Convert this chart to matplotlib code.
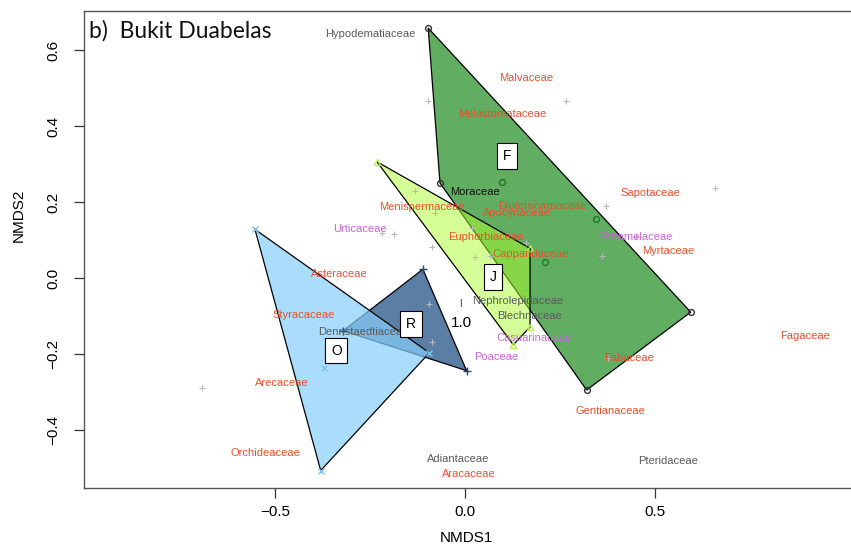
import matplotlib
matplotlib.use('Agg')
import matplotlib.pyplot as plt
from matplotlib.patches import Polygon
import numpy as np

# ---------------- data ----------------
# site scores per forest type (NMDS1, NMDS2)
F_x = [-0.097, -0.066, 0.594, 0.320, 0.097, 0.345, 0.211]
F_y = [0.658, 0.250, -0.090, -0.295, 0.253, 0.154, 0.043]
J_x = [-0.232, 0.171, 0.171, 0.127]
J_y = [0.306, 0.078, -0.129, -0.176]
R_x = [-0.111, 0.004, -0.321]
R_y = [0.023, -0.244, -0.139]
O_x = [-0.553, -0.094, -0.380, -0.371]
O_y = [0.128, -0.197, -0.507, -0.236]

# group centroid labels
group_names = ['F', 'J', 'R', 'O']
group_lab_x = [0.110, 0.073, -0.143, -0.339]
group_lab_y = [0.322, 0.002, -0.121, -0.191]

# unlabeled species scores (grey crosses)
sp_x = [-0.097, 0.265, -0.132, 0.370, 0.658, 0.361, 0.450, -0.219, -0.186,
        -0.079, -0.086, 0.026, 0.066, 0.018, -0.095, -0.086, -0.693, 0.376, 0.161]
sp_y = [0.467, 0.466, 0.228, 0.190, 0.236, 0.058, 0.108, 0.118, 0.115,
        0.170, 0.082, 0.054, 0.058, 0.131, -0.068, -0.169, -0.289, -0.211, 0.092]

# labelled families
fam_names = ['Hypodematiaceae', 'Malvaceae', 'Melastomataceae', 'Moraceae',
             'Menispermaceae', 'Dipterocarpaceae', 'Apocynaceae', 'Sapotaceae',
             'Urticaceae', 'Euphorbiaceae', 'Tetramelaceae', 'Myrtaceae',
             'Capparidaceae', 'Asteraceae', 'Nephrolepidaceae', 'Styracaceae',
             'Blechnaceae', 'Dennstaedtiaceae', 'Casuarinaceae', 'Poaceae',
             'Fabaceae', 'Fagaceae', 'Arecaceae', 'Gentianaceae', 'Orchideaceae',
             'Adiantaceae', 'Aracaceae', 'Pteridaceae']
fam_x = [-0.250, 0.161, 0.099, 0.026, -0.114, 0.204, 0.136, 0.487,
         -0.278, 0.054, 0.452, 0.535, 0.171, -0.332, 0.138, -0.426,
         0.169, -0.268, 0.182, 0.082, 0.432, 0.895, -0.482, 0.383, -0.526,
         -0.018, 0.011, 0.533]
fam_y = [0.642, 0.526, 0.432, 0.227, 0.188, 0.190, 0.170, 0.224,
         0.129, 0.109, 0.107, 0.072, 0.063, 0.011, -0.060, -0.097,
         -0.099, -0.141, -0.159, -0.207, -0.210, -0.152, -0.277, -0.350, -0.460,
         -0.476, -0.516, -0.483]
fam_type = ['fern', 'tree', 'tree', 'other', 'tree', 'tree', 'tree', 'tree',
            'herb', 'tree', 'herb', 'tree', 'tree', 'tree', 'fern', 'tree',
            'fern', 'fern', 'herb', 'herb', 'tree', 'tree', 'tree', 'tree', 'tree',
            'fern', 'tree', 'fern']

x_ticks = [-0.5, 0.0, 0.5]
y_ticks = [-0.4, -0.2, 0.0, 0.2, 0.4, 0.6]

# ---------------- styles ----------------
type_col = {'tree': '#e2522c', 'fern': '#5a5a5a', 'herb': '#c865d8', 'other': '#111111'}


def hull(xs, ys):
    pts = sorted(set(zip(xs, ys)))
    def cross(o, a, b):
        return (a[0]-o[0])*(b[1]-o[1]) - (a[1]-o[1])*(b[0]-o[0])
    lower, upper = [], []
    for p in pts:
        while len(lower) >= 2 and cross(lower[-2], lower[-1], p) <= 0:
            lower.pop()
        lower.append(p)
    for p in reversed(pts):
        while len(upper) >= 2 and cross(upper[-2], upper[-1], p) <= 0:
            upper.pop()
        upper.append(p)
    return lower[:-1] + upper[:-1]


W, H = 851, 547
fig = plt.figure(figsize=(W/100, H/100), dpi=100)
L, B, Rr, T = 84, 488, 853, 11
ax = fig.add_axes([L/W, (H-B)/H, (Rr-L)/W, (B-T)/H])
ax.set_xlim(-1.003, (Rr-465)/380)
ax.set_ylim(-0.553, 0.703)

groups = [
    (F_x, F_y, '#61ad61', 1.0, 'o', '#1f7a1f', '#333333', 4.2),
    (J_x, J_y, '#adff2f', 0.5, '^', '#b8f04a', '#b8f04a', 4.5),
    (R_x, R_y, '#5b7ea5', 1.0, '+', '#24456e', '#24456e', 6),
    (O_x, O_y, '#87cefa', 0.7, 'x', '#79c4f2', '#79c4f2', 4.5),
]
for i, (gx, gy, fc, al, mk, mc, vc, ms) in enumerate(groups):
    h = hull(gx, gy)
    ax.add_patch(Polygon(h, closed=True, facecolor=fc, alpha=al, edgecolor='none', zorder=2 + i))
    ax.add_patch(Polygon(h, closed=True, facecolor='none', edgecolor='black', lw=0.9, zorder=2 + i))
    hs = set(h)
    for x, y in zip(gx, gy):
        c = vc if (x, y) in hs else mc
        if mk in ('o', '^'):
            ax.plot(x, y, mk, ms=ms, mfc='none', mec=c, mew=1.0, zorder=7)
        else:
            ax.plot(x, y, mk, ms=ms, color=c, mew=1.0, zorder=7)

ax.plot(sp_x, sp_y, '+', ms=5, color='#b9b9b9', mew=0.8, linestyle='none', zorder=8)

for n, x, y, t in zip(fam_names, fam_x, fam_y, fam_type):
    ax.text(x, y, n, ha='center', va='center', fontsize=8, color=type_col[t],
            family='Liberation Sans', zorder=9)

for n, x, y in zip(group_names, group_lab_x, group_lab_y):
    ax.text(x, y, n, ha='center', va='center', fontsize=10, family='Liberation Sans',
            zorder=10, bbox=dict(boxstyle='square,pad=0.42', fc='white', ec='black', lw=0.8))

ax.text(-0.009, -0.118, '1.0', ha='center', va='center', fontsize=11,
        family='Liberation Sans', color='black', zorder=10)
ax.text(-0.011, -0.068, 'I', ha='center', va='center', fontsize=7,
        family='Liberation Sans', color='#333333', zorder=10)

ax.text(-0.990, 0.651, 'b)  Bukit Duabelas', ha='left', va='center', fontsize=16.5,
        family='Lato', color='#111111', zorder=10)

ax.set_xticks(x_ticks)
ax.set_xticklabels(['\u22120.5', '0.0', '0.5'])
ax.set_yticks(y_ticks)
ax.set_yticklabels(['\u22120.4', '\u22120.2', '0.0', '0.2', '0.4', '0.6'])
ax.tick_params(direction='out', length=7, width=0.9, color='#333333', labelsize=11)
ax.tick_params(axis='x', pad=5)
ax.tick_params(axis='y', pad=10)
for lab in ax.get_yticklabels():
    lab.set_rotation(90)
    lab.set_va('center')
    lab.set_family('Liberation Sans')
for lab in ax.get_xticklabels():
    lab.set_family('Liberation Sans')
for s in ax.spines.values():
    s.set_color('#555555')
    s.set_linewidth(1.0)

fig.text(466/W, 1 - 538/H, 'NMDS1', ha='center', va='center', fontsize=11, family='Liberation Sans')
fig.text(19/W, 1 - 215/H, 'NMDS2', ha='center', va='center', rotation=90, fontsize=11,
         family='Liberation Sans')

fig.savefig('out.png', dpi=100)
